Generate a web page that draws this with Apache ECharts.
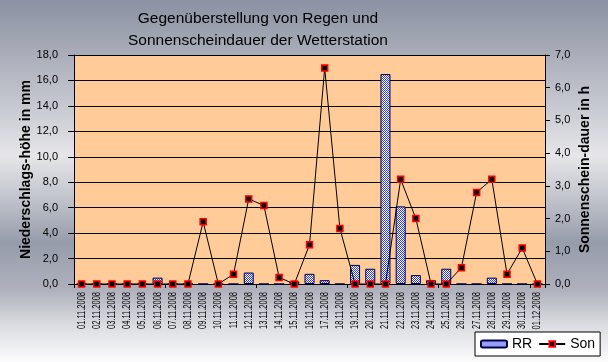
<!DOCTYPE html>
<html><head><meta charset="utf-8">
<script src="https://cdn.jsdelivr.net/npm/echarts@6/dist/echarts.min.js"></script>
<style>html,body{margin:0;padding:0;overflow:hidden}#c{width:608px;height:362px}</style>
</head><body><div id="c"></div><script>
const categories = ['01.11.2008','02.11.2008','03.11.2008','04.11.2008','05.11.2008','06.11.2008','07.11.2008','08.11.2008','09.11.2008','10.11.2008','11.11.2008','12.11.2008','13.11.2008','14.11.2008','15.11.2008','16.11.2008','17.11.2008','18.11.2008','19.11.2008','20.11.2008','21.11.2008','22.11.2008','23.11.2008','24.11.2008','25.11.2008','26.11.2008','27.11.2008','28.11.2008','29.11.2008','30.11.2008','01.12.2008'];
const rainMm = [0,0,0,0,0,0.5,0,0,0,0,0,0.9,0,0,0.2,0.8,0.3,0,1.5,1.2,16.5,6.1,0.7,0.3,1.2,0,0,0.5,0,0,0];
const sunHours = [0,0,0,0,0,0,0,0,1.9,0,0.3,2.6,2.4,0.2,0,1.2,6.6,1.7,0,0,0,3.2,2.0,0,0,0.5,2.8,3.2,0.3,1.1,0];
const titleLines = ['Gegenüberstellung von Regen und','Sonnenscheindauer der Wetterstation'];
const leftAxisName = 'Niederschlags-höhe in mm';
const rightAxisName = 'Sonnenschein-dauer in h';
const seriesNames = ['RR','Son'];

const pc = document.createElement('canvas'); pc.width = 2; pc.height = 2;
const pctx = pc.getContext('2d');
pctx.fillStyle = '#ffffff'; pctx.fillRect(0,0,2,2);
pctx.fillStyle = '#2f3cff'; pctx.fillRect(0,0,1,1); pctx.fillRect(1,1,1,1);

const FONT = 'Liberation Sans, Arial, sans-serif';
const fmt = v => v.toFixed(1).replace('.', ',');

const chart = echarts.init(document.getElementById('c'), null, {renderer:'canvas'});
chart.setOption({
  animation: false,
  backgroundColor: {type:'linear', x:0, y:0, x2:0, y2:1, colorStops:[
    {offset:0, color:'#8b91a3'}, {offset:0.13, color:'#a6aab6'}, {offset:0.3, color:'#c8cad2'},
    {offset:0.43, color:'#e6e6e9'}, {offset:0.55, color:'#c0c3cb'}, {offset:0.67, color:'#979cab'},
    {offset:0.8, color:'#aeb1bc'}, {offset:0.9, color:'#dcdde2'}, {offset:1, color:'#fbfbfc'}]},
  graphic: [{type:'text', x:258, y:8, style:{text: titleLines.join('\n'), align:'center', verticalAlign:'top', font:'15.5px Liberation Sans, Arial, sans-serif', lineHeight:22, fill:'#000'}}],
  grid: {left:74, right:63, top:55, bottom:78, show:true, backgroundColor:'#ffcc99', borderWidth:0},
  legend: {
    data: seriesNames, left:475, top:332, backgroundColor:'#fff', borderColor:'#000', borderWidth:1,
    padding:[5,5,5,5], itemGap:6, itemWidth:26, itemHeight:7,
    textStyle:{fontFamily:FONT, fontSize:14, color:'#000'}
  },
  xAxis: [{
    type:'category', data:categories, boundaryGap:true,
    axisLine:{show:true, lineStyle:{color:'#000', width:1}},
    axisTick:{show:true, length:4, alignWithLabel:false, lineStyle:{color:'#000'}},
    axisLabel:{show:false},
    splitLine:{show:false}
  }],
  yAxis: [{
    type:'value', min:0, max:18, interval:2, position:'left',
    name:leftAxisName, nameLocation:'middle', nameGap:41, nameMoveOverlap:false,
    nameTextStyle:{fontFamily:FONT, fontSize:14, fontWeight:'bold', color:'#000'},
    axisLine:{show:true, lineStyle:{color:'#000'}},
    axisTick:{show:true, length:6, lineStyle:{color:'#000'}},
    axisLabel:{formatter:fmt, fontFamily:FONT, fontSize:11, color:'#000', margin:16},
    splitLine:{show:true, lineStyle:{color:'#000', width:1}}
  },{
    type:'value', min:0, max:7, interval:1, position:'right',
    name:rightAxisName, nameLocation:'middle', nameGap:33, nameMoveOverlap:false,
    nameTextStyle:{fontFamily:FONT, fontSize:14, fontWeight:'bold', color:'#000'},
    axisLine:{show:true, lineStyle:{color:'#000'}},
    axisTick:{show:true, length:5, lineStyle:{color:'#000'}},
    axisLabel:{formatter:fmt, fontFamily:FONT, fontSize:11, color:'#000', margin:10},
    splitLine:{show:false}
  }],
  series: [{
    name:seriesNames[0], type:'bar', data:rainMm, xAxisIndex:0, yAxisIndex:0, barWidth:10,
    itemStyle:{color:{image:pc, repeat:'repeat'}, borderColor:'#000040', borderWidth:1}
  },{
    name:seriesNames[1], type:'line', data:sunHours, xAxisIndex:0, yAxisIndex:1,
    symbol:'rect', symbolSize:6, showAllSymbol:true,
    lineStyle:{color:'#000', width:1},
    itemStyle:{color:'#000', borderColor:'#ff0000', borderWidth:1.5}
  },{
    name:'xlabels', type:'custom', xAxisIndex:0, yAxisIndex:0, clip:false, silent:true,
    data: categories.map((c, i) => [i, 0]),
    renderItem: (params, api) => {
      const p = api.coord([api.value(0), 0]);
      return {type:'text', x:p[0], y:p[1] + 8, rotation:Math.PI/2, scaleX:0.68,
        style:{text:categories[params.dataIndex], align:'right', verticalAlign:'middle',
          font:'11px Liberation Sans, Arial, sans-serif', fill:'#000'}};
    }
  }]
});
</script></body></html>
